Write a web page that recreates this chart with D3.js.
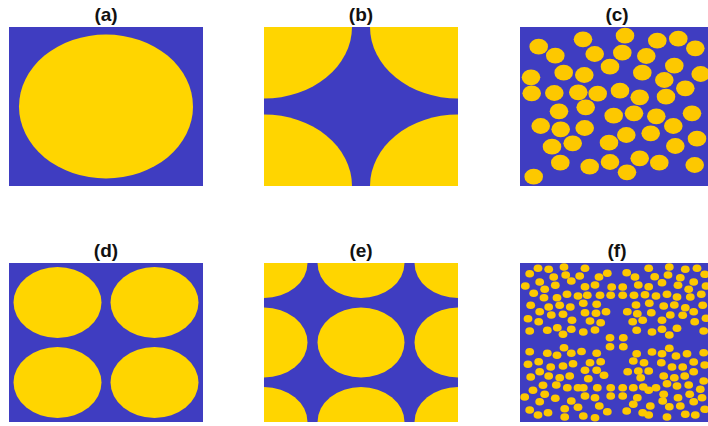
<!DOCTYPE html>
<html>
<head>
<meta charset="utf-8">
<script src="https://cdn.jsdelivr.net/npm/d3@7"></script>
<style>
html,body{margin:0;padding:0;background:#fff;}
svg{display:block;}
</style>
</head>
<body>
<svg id="chart" width="708" height="426"></svg>
<script>
// ---- data ----
const panelLabels = ["(a)", "(b)", "(c)", "(d)", "(e)", "(f)"];
const panelCols = [0, 1, 2, 0, 1, 2];
const panelRows = [0, 0, 0, 1, 1, 1];

// inclusion centres (panel units: 0..194 wide, 0..159 tall) and radii
const circlesA = [[97, 79.5]];
const radiusA = [87, 72];

const circlesB = [[0, 0], [194, 0], [0, 159], [194, 159]];
const radiusB = [88, 71.5];

const circlesC = [
  [18.7,19.7],[63,12.3],[105,8.7],[137.3,13.7],[158.3,11.7],[175.3,21.3],[35.3,28.7],[74.7,27],
  [102.3,25.7],[126.3,29],[90,39.7],[154.3,38.7],[43.7,45.7],[64.3,48],[122.3,45.7],[144.3,53],
  [180.7,47],[11,50.3],[11.7,66.3],[34.3,66],[58.3,65.3],[77.7,66.7],[100,63.7],[119.7,70.3],
  [146,69.7],[165.3,61.3],[39,84.3],[65.7,80.3],[93.7,88.7],[114,86.3],[136.3,89.3],[172,86.3],
  [20.7,99],[40.7,102.3],[64.7,101],[106.3,108],[130.7,106.3],[153.3,99],[177,111.7],[32,119.7],
  [52.7,116.3],[89,115.7],[155.3,119],[40.3,135.7],[69.7,139.7],[90,135],[119.7,131.3],[139.3,135.7],
  [174.7,138],[107,145.3],[13.7,149.7]
];
const radiusC = [9.3, 7.9];

const circlesD = [[48.5, 39.5], [145.5, 39.5], [48.5, 119.5], [145.5, 119.5]];
const radiusD = [44, 35.5];

const circlesE = [
  [0, 0], [97, 0], [194, 0],
  [0, 79.5], [97, 79.5], [194, 79.5],
  [0, 159], [97, 159], [194, 159]
];
const radiusE = [43.5, 35];

const circlesF = [
  // top-left
  [9.7,10.7],[18,5.3],[28.7,6.3],[44,4],[59.7,13],[33.7,14],[45.7,12],[5.3,23],[19.7,19],[35.3,22.3],
  [51.3,18],[24.7,26.3],[13.7,30.3],[24,34.7],[37,34.7],[47,31.3],[58,33],[10.7,42.3],[28.7,44],
  [39.7,42.3],[50.3,44],[19.7,48.7],[31.3,52],[43,51.3],[8,55.7],[52,57.3],[18.7,58.7],[9.7,68],
  [27.3,67.3],[37.3,64.7],[43,71.3],[51.3,66.3],
  // top-middle
  [65,5.3],[87.3,10.3],[79,14],[106.7,9.7],[115,14],[65,23.7],[75,22],[91.7,24],[102.7,24],[118.3,22],
  [67.3,32.3],[80,32.3],[90.7,32.3],[102.7,32.3],[114,32.3],[125,31.7],[63.3,40.3],[76.7,41.3],[116,42],
  [65,49.7],[76,50.3],[86,48.7],[107.3,48.7],[117.3,50.7],[70,58],[80.7,59.7],[112.7,58.7],[122.7,57.3],
  [63.3,69],[75,67],[116.7,67.3],[90,74.7],[103.3,74.7],
  // top-right
  [128.7,5.3],[149.3,4],[165.3,6.3],[177,5.3],[184.7,11.3],[134.7,13.7],[148,12],[160.3,14.7],[142,19.7],
  [173.7,19],[128.7,23.7],[158,22.3],[186,23],[168.7,26.3],[136,33],[147,31.3],[157,34],[170.3,34],
  [181.3,31.3],[129.3,40.3],[143.7,43],[154.3,42],[165.3,44.7],[182.7,42.3],[131.3,49.7],[150.3,52],
  [162.7,52.3],[173.7,48.7],[142,57.3],[174.7,58.7],[186,55.3],[132,69],[142,66.3],[157,65.3],
  [149.3,72],[183.7,68],
  // bottom-left
  [9.7,88.7],[27.3,90.3],[37,92.3],[44,84.7],[51.3,90.3],[61.5,88.5],[8,101.3],[18.7,98.7],[30.7,104],
  [43,103],[53,100.7],[19.7,108.7],[10.7,114],[28.7,113],[39.7,114.7],[49.7,113],[23,122.3],[36.3,122],
  [47.3,124.7],[13,127.3],[58,124.7],[24.7,131.3],[4.7,134],[35.3,135.3],[19.7,138.7],[51.3,138],
  [9.7,147],[28,149.7],[44.7,145.7],[58,144.3],[18,152],[44.7,154],
  // bottom-middle
  [90,83.7],[103.3,83.7],[76.7,90.3],[116.7,90.7],[70,99.7],[80.7,98.7],[113.3,98],[124,99.7],[65,107.3],
  [76.7,107.3],[107.7,108.7],[118.3,108],[68.3,115.7],[84,112.3],[120.7,114.7],[63.3,124.7],[77.3,124.7],
  [90.7,124.7],[102.7,124.7],[113.3,124.7],[123.3,124],[65,133],[75,134.7],[90.7,133],[102.7,133],
  [117.3,134.7],[79.3,143],[113.3,141.3],[87.3,148.7],[106.7,148],[122.7,149.7],[63.3,153],[75,154.7],
  // bottom-right
  [132,89],[142,90.7],[149.3,85.3],[156,93],[167,90.7],[183.7,89.7],[141.3,99.7],[152,104],[162.7,104],
  [173.7,99],[184.7,102],[128.7,108],[143.7,113],[154.3,114.7],[164.7,113],[173.7,108.7],[183.7,118],
  [136,124.7],[147,120.7],[157,123],[168.7,122],[180.3,126.3],[128.7,127.3],[143.7,131.3],[158,134.7],
  [169.7,131.3],[182,134.7],[142.7,138],[173.7,138.7],[130.3,143],[149.3,143.7],[160.3,143],[184.7,146.3],
  [128.7,152],[147,154],[165.3,151.3],[175.3,152]
];
const radiusF = [4.4, 3.8];

const panelCircles = [circlesA, circlesB, circlesC, circlesD, circlesE, circlesF];
const panelRadii = [radiusA, radiusB, radiusC, radiusD, radiusE, radiusF];
const panelFills = ["#ffd500", "#ffd500", "#fdc800", "#ffd500", "#ffd500", "#fdc800"];

// ---- layout ----
const svg = d3.select("#chart");
const W = 194, H = 159;
const colScale = d3.scaleOrdinal().domain([0, 1, 2]).range([9, 264, 520]);
const rowScale = d3.scaleOrdinal().domain([0, 1]).range([27, 263]);
const blue = "#3f3dc1";

panelLabels.forEach((label, i) => {
  const x0 = colScale(panelCols[i]);
  const y0 = rowScale(panelRows[i]);
  const x = d3.scaleLinear().domain([0, W]).range([x0, x0 + W]);
  const y = d3.scaleLinear().domain([0, H]).range([y0, y0 + H]);
  const clipId = "clip" + i;
  svg.append("clipPath").attr("id", clipId)
    .append("rect").attr("x", x(0)).attr("y", y(0))
    .attr("width", x(W) - x(0)).attr("height", y(H) - y(0));
  const g = svg.append("g").attr("clip-path", `url(#${clipId})`);
  g.append("rect").attr("x", x(0)).attr("y", y(0))
    .attr("width", x(W) - x(0)).attr("height", y(H) - y(0))
    .attr("fill", blue);
  const r = panelRadii[i];
  g.selectAll("ellipse").data(panelCircles[i]).join("ellipse")
    .attr("cx", d => x(d[0]))
    .attr("cy", d => y(d[1]))
    .attr("rx", x(r[0]) - x(0))
    .attr("ry", y(r[1]) - y(0))
    .attr("fill", panelFills[i]);
  svg.append("text")
    .attr("x", x(W / 2))
    .attr("y", y0 - 6)
    .attr("text-anchor", "middle")
    .attr("font-family", "Liberation Sans, Arial, sans-serif")
    .attr("font-weight", "bold")
    .attr("font-size", 19)
    .attr("fill", "#111")
    .text(label);
});
</script>
</body>
</html>
